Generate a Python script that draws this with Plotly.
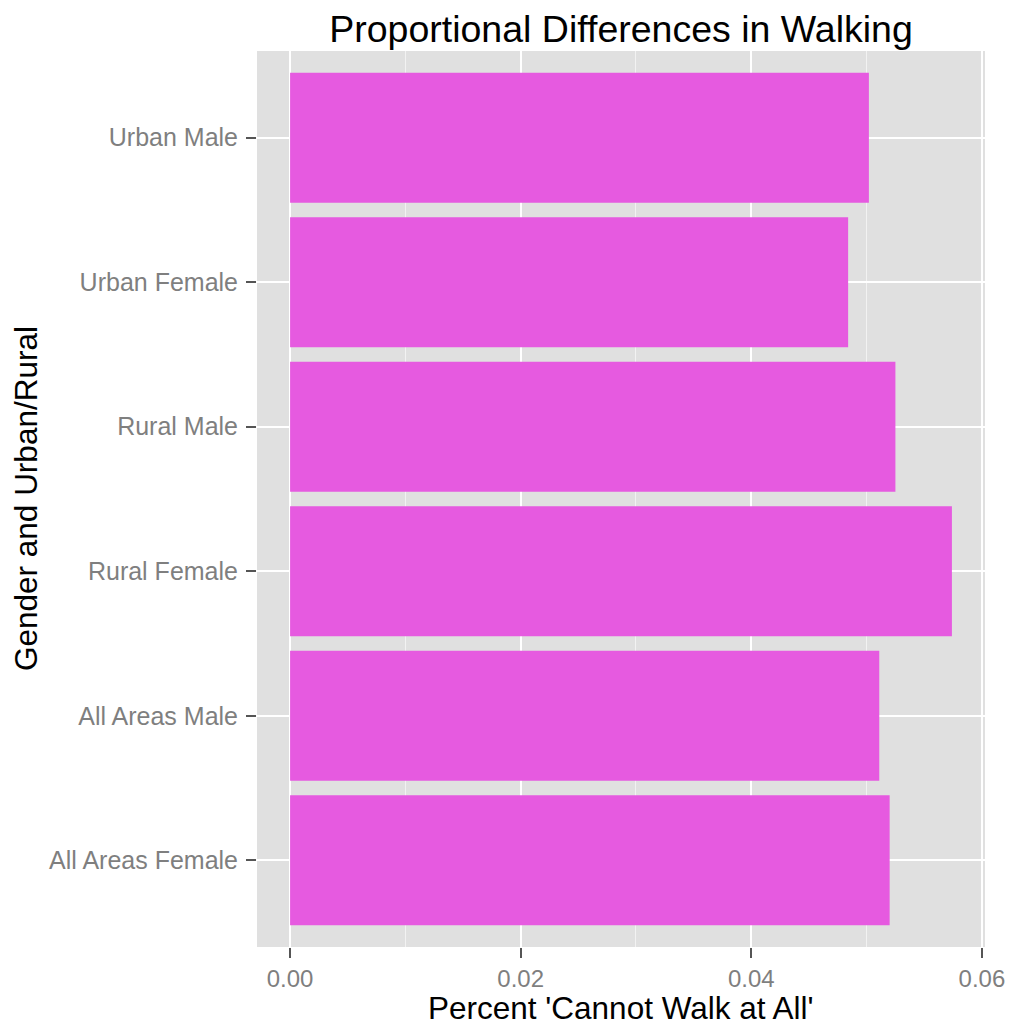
import plotly.graph_objects as go

# Data
categories = ["All Areas Female", "All Areas Male", "Rural Female",
              "Rural Male", "Urban Female", "Urban Male"]
values = [0.0520, 0.0511, 0.0574, 0.0525, 0.0484, 0.0502]
x_ticks = [0.00, 0.02, 0.04, 0.06]
x_tick_labels = ["0.00", "0.02", "0.04", "0.06"]

FONT = "Liberation Sans, Arial, Helvetica, sans-serif"
BAR_COLOR = "#E65AE0"
PANEL_BG = "#E0E0E0"

vmax = max(values)
x_range = [-0.05 * vmax, 1.05 * vmax]

fig = go.Figure(
    go.Bar(
        x=values,
        y=categories,
        orientation="h",
        marker=dict(color=BAR_COLOR, line=dict(width=0)),
        width=0.9,
        hoverinfo="x+y",
    )
)

OFF = 8  # default page body margin
W, H = 1018 - OFF, 1027 - OFF
ml, mr, mt, mb = 257 - OFF, 33, 51 - OFF, 80
panel_h = H - mt - mb
panel_w = W - ml - mr

fig.update_layout(
    width=W,
    height=H,
    margin=dict(l=ml, r=mr, t=mt, b=mb, pad=0),
    paper_bgcolor="white",
    plot_bgcolor=PANEL_BG,
    showlegend=False,
    font=dict(family=FONT, color="#000000"),
    title=dict(
        text="Proportional Differences in Walking",
        font=dict(family=FONT, size=37.5, color="#000000"),
        x=0.5,
        xref="paper",
        xanchor="center",
        y=1 - (29 - OFF) / H,
        yref="container",
        yanchor="middle",
    ),
    xaxis=dict(
        range=x_range,
        tickvals=x_ticks,
        ticktext=x_tick_labels,
        showgrid=True,
        gridcolor="#FFFFFF",
        gridwidth=2.2,
        zeroline=False,
        showline=False,
        ticks="outside",
        ticklen=10,
        tickwidth=2,
        tickcolor="#555555",
        ticklabelstandoff=0,
        tickfont=dict(family=FONT, size=24, color="#7F7F7F"),
        minor=dict(
            dtick=0.01,
            tick0=0.01,
            showgrid=True,
            gridcolor="#F2F2F2",
            gridwidth=1.1,
            ticks="",
        ),
        automargin=False,
        fixedrange=True,
    ),
    yaxis=dict(
        categoryorder="array",
        categoryarray=categories,
        range=[-0.6, len(categories) - 0.4],
        showgrid=True,
        gridcolor="#FFFFFF",
        gridwidth=2.2,
        zeroline=False,
        showline=False,
        ticks="outside",
        ticklen=10,
        tickwidth=2,
        tickcolor="#555555",
        ticklabelstandoff=3,
        tickfont=dict(family=FONT, size=25, color="#7F7F7F"),
        automargin=False,
        fixedrange=True,
    ),
    annotations=[
        dict(
            text="Percent 'Cannot Walk at All'",
            xref="paper",
            yref="paper",
            x=0.5,
            y=-(1008 - 947) / panel_h,
            xanchor="center",
            yanchor="middle",
            showarrow=False,
            font=dict(family=FONT, size=31.5, color="#000000"),
        ),
        dict(
            text="Gender and Urban/Rural",
            xref="paper",
            yref="paper",
            x=(26 - 257) / panel_w,
            y=0.5,
            xanchor="center",
            yanchor="middle",
            textangle=-90,
            showarrow=False,
            font=dict(family=FONT, size=31.5, color="#000000"),
        ),
    ],
)

fig.write_html("out.html")
